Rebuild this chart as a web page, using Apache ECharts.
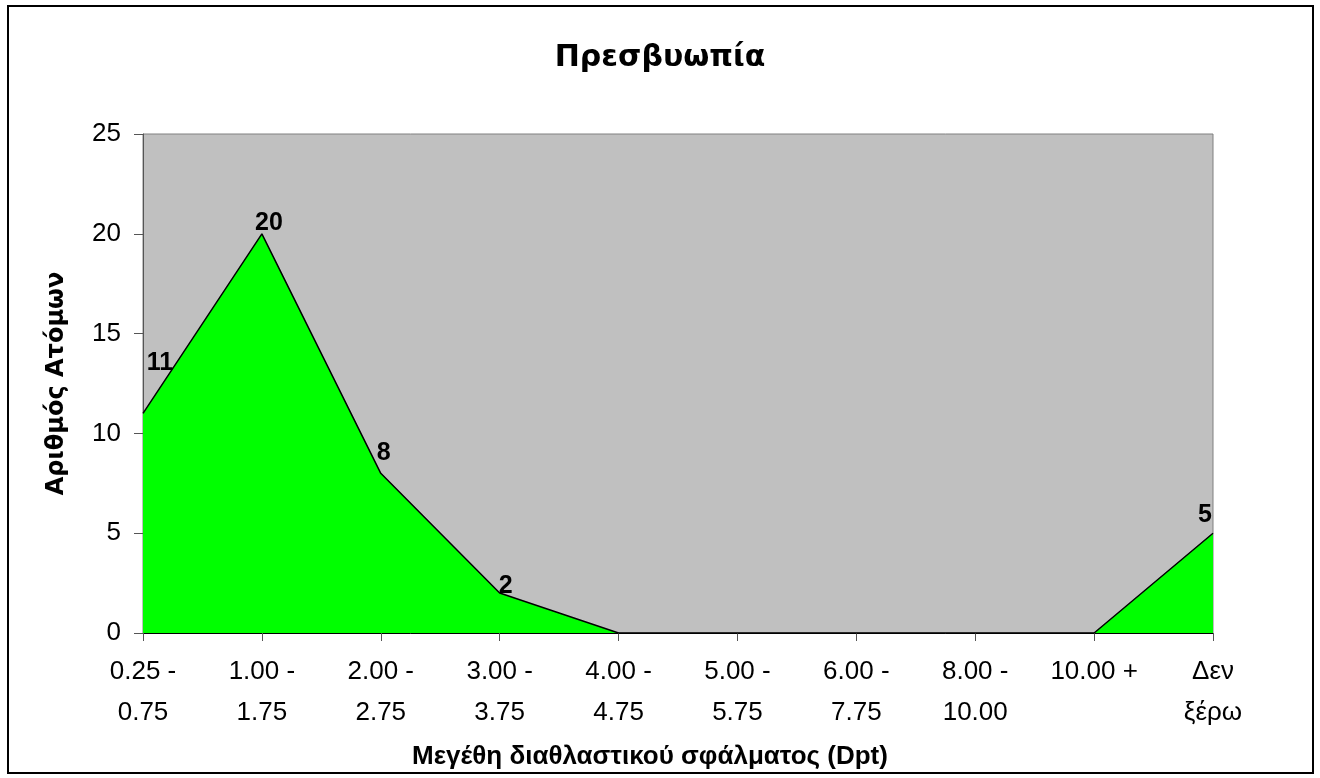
<!DOCTYPE html>
<html><head><meta charset="utf-8">
<script src="https://cdn.jsdelivr.net/npm/echarts@6/dist/echarts.min.js"></script>
<style>html,body{margin:0;padding:0;background:#fff}#c{width:1320px;height:778px}</style>
</head><body><div id="c"></div>
<script>
const categories = ['0.25 -\n0.75','1.00 -\n1.75','2.00 -\n2.75','3.00 -\n3.75','4.00 -\n4.75','5.00 -\n5.75','6.00 -\n7.75','8.00 -\n10.00','10.00 +','Δεν\nξέρω'];
const values = [11, 20, 8, 2, 0, 0, 0, 0, 0, 5];
const labelOffsets = [[17, -38], [7, 2], [3, -8], [6, 6], [0, 0], [0, 0], [0, 0], [0, 0], [0, 0], [-8, -6]];
const chart = echarts.init(document.getElementById('c'), null, {renderer: 'canvas'});
const F = '"Liberation Sans", Arial, sans-serif';
const FD = '"DejaVu Sans", Verdana, sans-serif';
chart.setOption({
  animation: false,
  title: {text: 'Πρεσβυωπία', left: 'center', top: 38, textStyle: {fontFamily: FD, fontSize: 30, fontWeight: 'bold', color: '#000'}},
  grid: {left: 143, right: 107, top: 134, bottom: 145, show: true, backgroundColor: '#C0C0C0', borderColor: '#808080', borderWidth: 1},
  graphic: [{type: 'rect', shape: {x: 8, y: 6, width: 1305, height: 767}, style: {fill: 'none', stroke: '#000', lineWidth: 2}, z: 100}],
  xAxis: {
    type: 'category', data: categories, boundaryGap: false,
    name: 'Μεγέθη διαθλαστικού σφάλματος (Dpt)', nameLocation: 'middle', nameGap: 111,
    nameTextStyle: {fontFamily: F, fontSize: 26, fontWeight: 'bold', color: '#000', padding: [0, 56, 0, 0]},
    axisLine: {lineStyle: {color: '#000', width: 1}},
    axisTick: {show: true, length: 8, alignWithLabel: true, lineStyle: {color: '#555'}},
    axisLabel: {fontFamily: F, fontSize: 26, color: '#000', margin: 18, lineHeight: 41, interval: 0},
    splitLine: {show: false}
  },
  yAxis: {
    type: 'value', min: 0, max: 25, interval: 5,
    name: 'Αριθμός Ατόμων', nameLocation: 'middle', nameGap: 74,
    nameTextStyle: {fontFamily: FD, fontSize: 24, fontWeight: 'bold', color: '#000'},
    axisLine: {show: true, lineStyle: {color: '#555'}},
    axisTick: {show: true, length: 9, lineStyle: {color: '#555'}},
    axisLabel: {fontFamily: F, fontSize: 26, color: '#000', margin: 22},
    splitLine: {show: false}
  },
  series: [{
    type: 'line', symbol: 'circle', symbolSize: 0, showSymbol: true,
    data: values.map((v, i) => ({
      value: v,
      label: {show: v !== 0, offset: labelOffsets[i]}
    })),
    lineStyle: {color: '#000', width: 1.5},
    areaStyle: {color: '#00FF00', opacity: 1},
    label: {show: false, position: 'top', distance: 0, fontFamily: F, fontSize: 25, fontWeight: 'bold', color: '#000'}
  }]
});
</script></body></html>
